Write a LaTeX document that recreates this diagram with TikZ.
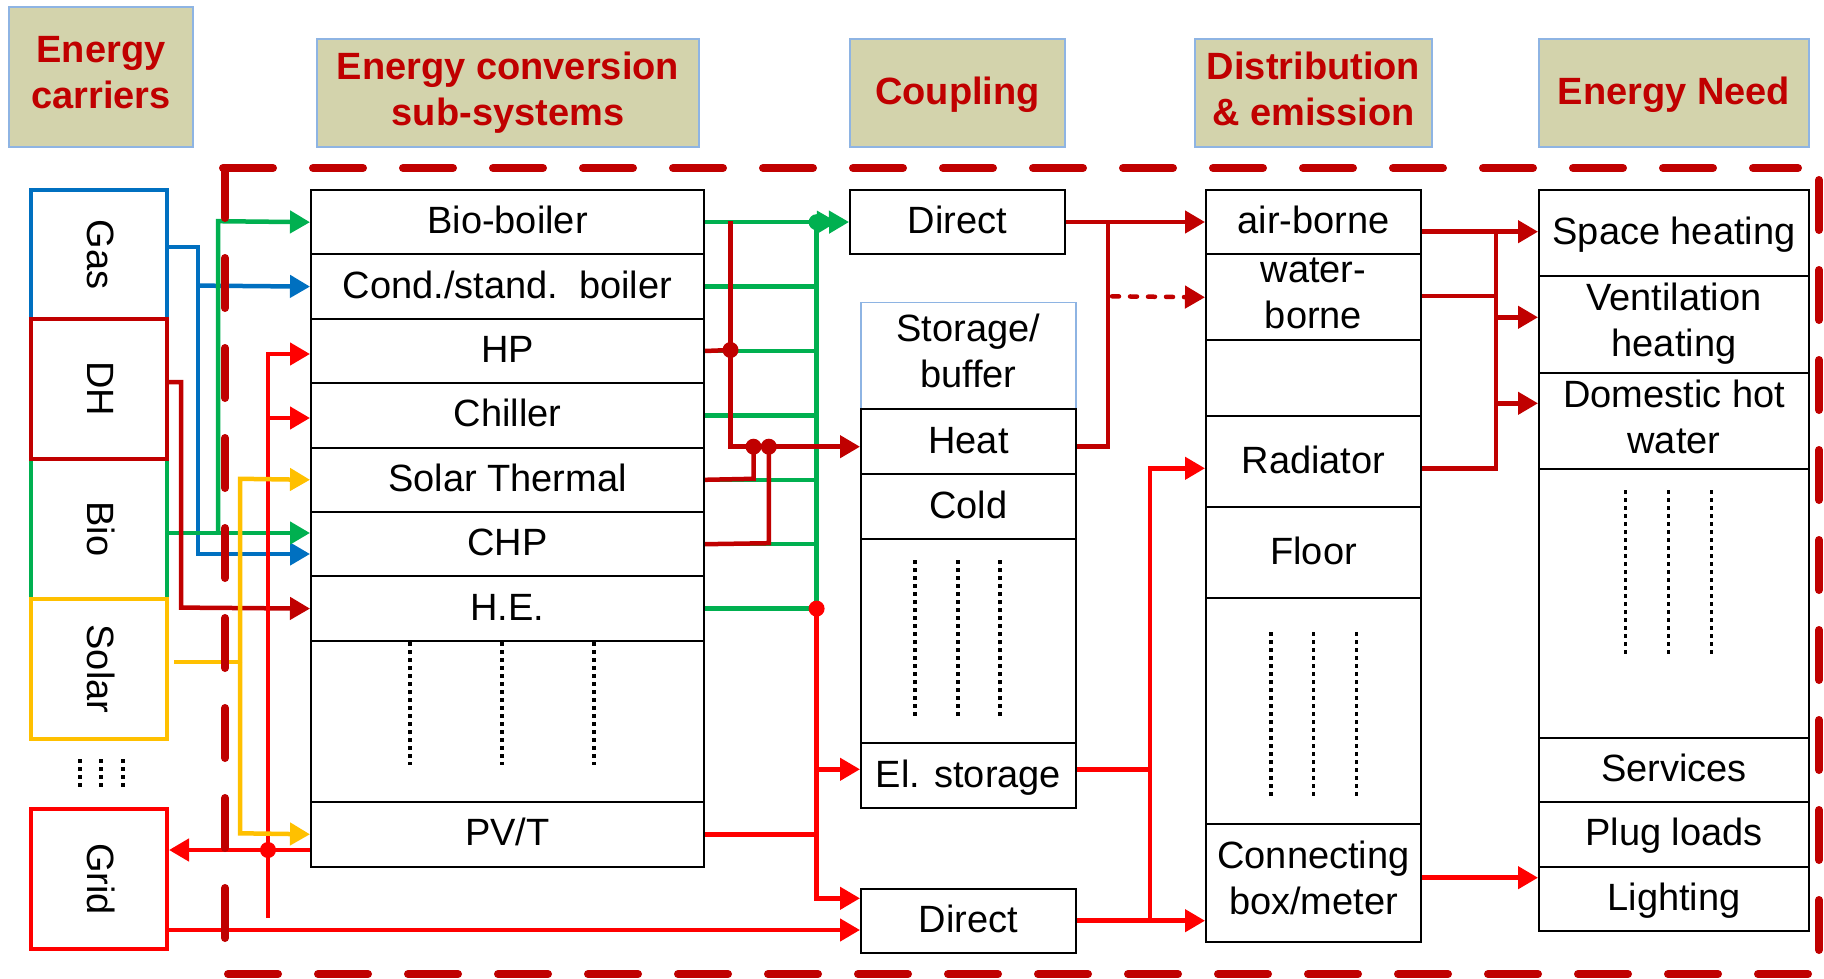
\documentclass[tikz,border=0pt]{standalone}
\usepackage{fontspec}
\setmainfont{Liberation Sans}
\usetikzlibrary{arrows.meta,calc}
\definecolor{dred}{HTML}{C00000}
\definecolor{bred}{HTML}{FF0000}
\definecolor{cgreen}{HTML}{00B050}
\definecolor{cblue}{HTML}{0070C0}
\definecolor{cyellow}{HTML}{FFC000}
\definecolor{hfill}{HTML}{D3D3AC}
\definecolor{hborder}{HTML}{8EB4E3}
\newcommand\lst{\rule[-9pt]{0pt}{41pt}}
\newcommand\lstt{\rule[-9pt]{0pt}{45pt}}
\newcommand\rot[1]{\rotatebox{-90}{\lst #1}}
\tikzset{
  txt/.style={font=\fontsize{38pt}{46pt}\selectfont},
  wh/.style 2 args={minimum width=#1pt, minimum height=#2pt},
  cell/.style={draw=black, line width=2pt, fill=white, inner sep=0pt, anchor=north west, align=center, txt,
    execute at begin node=\lst, execute at end node=\lst},
  hdr/.style={draw=hborder, line width=2pt, fill=hfill, inner sep=0pt, anchor=north west, align=center, text=dred,
    font=\fontsize{38pt}{46pt}\selectfont\bfseries, execute at begin node=\lst, execute at end node=\lst},
  two/.style={execute at begin node=\lstt},
  carrier/.style={line width=4pt, inner sep=0pt, anchor=north west, txt},
  wire/.style={line width=4.5pt},
  arr/.style={-{Triangle[length=20pt,width=22pt]}},
  jdot/.style={circle, fill, inner sep=0pt, minimum size=16pt},
  dotline/.style={line width=3.5pt, dash pattern=on 4pt off 4pt},
  dotwire/.style={line width=4.5pt, line cap=round, dash pattern=on 7pt off 11pt},
  bound/.style={draw=dred, line width=8pt, line cap=round, dash pattern=on 50pt off 40pt},
}
\begin{document}
\begin{tikzpicture}[x=1pt,y=-1pt]
\useasboundingbox (0,0) rectangle (1824,979);

% headers
\node[hdr, two, wh={184}{140}] (h1) at (8,6) {Energy\\carriers};
\node[hdr, two, wh={382}{108}] (h2) at (316,38) {Energy conversion\\sub-systems};
\node[hdr, wh={215}{108}] (h3) at (849,38) {Coupling};
\node[hdr, two, wh={237}{108}] (h4) at (1194,38) {Distribution\\\& emission};
\node[hdr, wh={270}{108}] (h5) at (1538,38) {Energy Need};

% carriers
\node[carrier, draw=cblue, wh={136}{129}] (gas) at (29,188) {\rot{Gas}};
\node[carrier, draw=cgreen, wh={136}{140}] (biob) at (29,457) {\rot{Bio}};
\node[carrier, draw=dred, wh={136}{140}] (dh) at (29,317) {\rot{DH}};
\node[carrier, draw=cyellow, wh={136}{140}] (solar) at (29,597) {\rot{Solar}};
\node[carrier, draw=bred, wh={136}{140}] (grid) at (29,807) {\rot{Grid}};
\foreach \x in {80,101,123} \draw[dotline] (\x,759) -- (\x,788);

% conversion sub-systems
\node[cell, wh={393}{64.4}] (bio) at (310,189) {Bio-boiler};
\node[cell, wh={393}{64.4}] (cond) at (310,253.4) {Cond./stand.\ \ boiler};
\node[cell, wh={393}{64.4}] (hp) at (310,317.8) {HP};
\node[cell, wh={393}{64.4}] (chil) at (310,382.2) {Chiller};
\node[cell, wh={393}{64.4}] (solth) at (310,446.6) {Solar Thermal};
\node[cell, wh={393}{64.4}] (chp) at (310,511) {CHP};
\node[cell, wh={393}{64.4}] (he) at (310,575.4) {H.E.};
\node[cell, wh={393}{161.2}] (cdots) at (310,639.8) {};
\node[cell, wh={393}{64.6}] (pvt) at (310,801) {PV/T};
\foreach \x in {410,502,594} \draw[dotline] (\x,642) -- (\x,765);

% coupling
\node[cell, wh={215}{64}] (dir1) at (849,189) {Direct};
\node[cell, two, draw=hborder, line width=1.5pt, wh={215}{106.3}] (stor) at (860,301.7) {Storage/\\buffer};
\node[cell, wh={215}{65.3}] (heat) at (860,408) {Heat};
\node[cell, wh={215}{64.4}] (cold) at (860,473.3) {Cold};
\node[cell, wh={215}{204.6}] (sdots) at (860,537.7) {};
\node[cell, wh={215}{64.4}] (elst) at (860,742.3) {El. storage};
\node[cell, wh={215}{64}] (dir2) at (860,887.7) {Direct};
\foreach \x in {915,958,1000} \draw[dotline] (\x,560) -- (\x,718);

% distribution
\node[cell, wh={215}{64.3}] (air) at (1205,189) {air-borne};
\node[cell, two, wh={215}{86}] (water) at (1205,253.3) {water-\\borne};
\node[cell, wh={215}{75.7}] (empt) at (1205,339.3) {};
\node[cell, wh={215}{91}] (rad) at (1205,415) {Radiator};
\node[cell, wh={215}{91.3}] (floor) at (1205,506) {Floor};
\node[cell, wh={215}{225.4}] (ddots) at (1205,597.3) {};
\node[cell, two, wh={215}{118}] (cbox) at (1205,822.7) {Connecting\\box/meter};
\foreach \x in {1271,1313.5,1356.6} \draw[dotline] (\x,632) -- (\x,799);

% energy need
\node[cell, wh={270}{86}] (sh) at (1538,189) {Space heating};
\node[cell, two, wh={270}{96.7}] (vh) at (1538,275) {Ventilation\\heating};
\node[cell, two, wh={270}{96.6}] (dhw) at (1538,371.7) {Domestic hot\\water};
\node[cell, wh={270}{268.4}] (ndots) at (1538,468.3) {};
\node[cell, wh={270}{64.3}] (serv) at (1538,736.7) {Services};
\node[cell, wh={270}{64.7}] (plug) at (1538,801) {Plug loads};
\node[cell, wh={270}{64.3}] (light) at (1538,865.7) {Lighting};
\foreach \x in {1625.7,1668.7,1711.7} \draw[dotline] (\x,490) -- (\x,657);

% ---- left connectors
\draw[wire,cblue,arr] (gas.east |- 0,247) -- (198,247) -- (198,554) -- (chp.west |- 0,554);
\draw[wire,cblue,arr] (198,285.6) -- (cond.west);
\draw[wire,cgreen,arr] (biob.east |- 0,533) -- (chp.west |- 0,533);
\draw[wire,cgreen,arr] (218,533) -- (218,221.2) -- (bio.west);
\draw[wire,dred,arr] (dh.east |- 0,382) -- (181,382) -- (181,607.6) -- (he.west);
\draw[wire,bred,arr] (268,918) -- (268,354) -- (hp.west |- 0,354);
\draw[wire,bred,arr] (268,418) -- (chil.west |- 0,418);
\draw[wire,bred,arr] (pvt.west |- 0,850) -- (grid.east |- 0,850);
\node[jdot,bred] (gj) at (268,850) {};
\draw[wire,cyellow] (solar.east |- 0,662) ++(5,0) -- (240,662);
\draw[wire,cyellow,arr] (240,662) -- (240,478.8) -- (solth.west);
\draw[wire,cyellow,arr] (240,662) -- (240,833.3) -- (pvt.west);
\draw[wire,bred,arr] (grid.east |- 0,930) -- (dir2.west |- 0,930);

% ---- middle connectors
\coordinate (gbus) at (816.6,0);
\foreach \n in {bio,cond,hp,chil,solth,chp,he}
  \draw[wire,cgreen] (\n.east) -- (\n.east -| gbus);
\draw[wire,cgreen] (bio.east -| gbus) -- (he.east -| gbus);
\draw[wire,cgreen,arr] (bio.east -| gbus) -- ($(dir1.west)+(-12,0)$);
\draw[wire,cgreen,arr] (bio.east -| gbus) -- (dir1.west);
\node[jdot,cgreen] (gj1) at (bio.east -| gbus) {};
\draw[wire,bred,arr] (he.east -| gbus) -- (816.6,898.3) -- (dir2.west |- 0,898.3);
\draw[wire,bred,arr] (816.6,769.3) -- (elst.west |- 0,769.3);
\draw[wire,bred] (pvt.east) -- (pvt.east -| gbus);
\node[jdot,bred] (rj1) at (he.east -| gbus) {};
\draw[wire,dred,arr] (730.5,221.2) -- (730.5,446.7) -- (heat.west |- 0,446.7);
\draw[wire,dred] (hp.east) -- (730.5,350);
\draw[wire,dred] (solth.east) -- (753.5,478.8) -- (753.5,446.7);
\draw[wire,dred] (chp.east) -- (768.8,543.2) -- (768.8,446.7);
\node[jdot,dred] (dj1) at (730.5,350) {};
\node[jdot,dred] (dj2) at (753.5,446.7) {};
\node[jdot,dred] (dj3) at (768.8,446.7) {};

% ---- right connectors
\draw[wire,dred,arr] (dir1.east) -- (air.west |- dir1.east);
\draw[wire,dred] (heat.east |- 0,446.7) -- (1108,446.7) -- (1108,221);
\draw[dotwire,dred,arr] (1112,296.3) -- (water.west);
\draw[wire,bred] (elst.east |- 0,769.3) -- (1150,769.3);
\draw[wire,bred,arr] (dir2.east) -- (cbox.west |- dir2.east);
\draw[wire,bred,arr] (1150,919.7) -- (1150,468.3) -- (rad.west |- 0,468.3);

% ---- far right connectors
\draw[wire,dred,arr] (air.east |- 0,231.7) -- (sh.west |- 0,231.7);
\draw[wire,dred] (1496,231.7) -- (1496,468.3) -- (rad.east |- 0,468.3);
\draw[wire,dred] (water.east |- 0,296) -- (1496,296);
\draw[wire,dred,arr] (1496,317.3) -- (vh.west |- 0,317.3);
\draw[wire,dred,arr] (1496,403.3) -- (dhw.west |- 0,403.3);
\draw[wire,bred,arr] (cbox.east |- 0,877.7) -- (light.west |- 0,877.7);

% ---- boundary
\draw[bound] (223,168) -- (1798,168);
\draw[bound] (225,168) -- (225,945);
\draw[bound] (228,974) -- (1812,974);
\draw[bound] (1819,180) -- (1819,952);
\end{tikzpicture}
\end{document}
